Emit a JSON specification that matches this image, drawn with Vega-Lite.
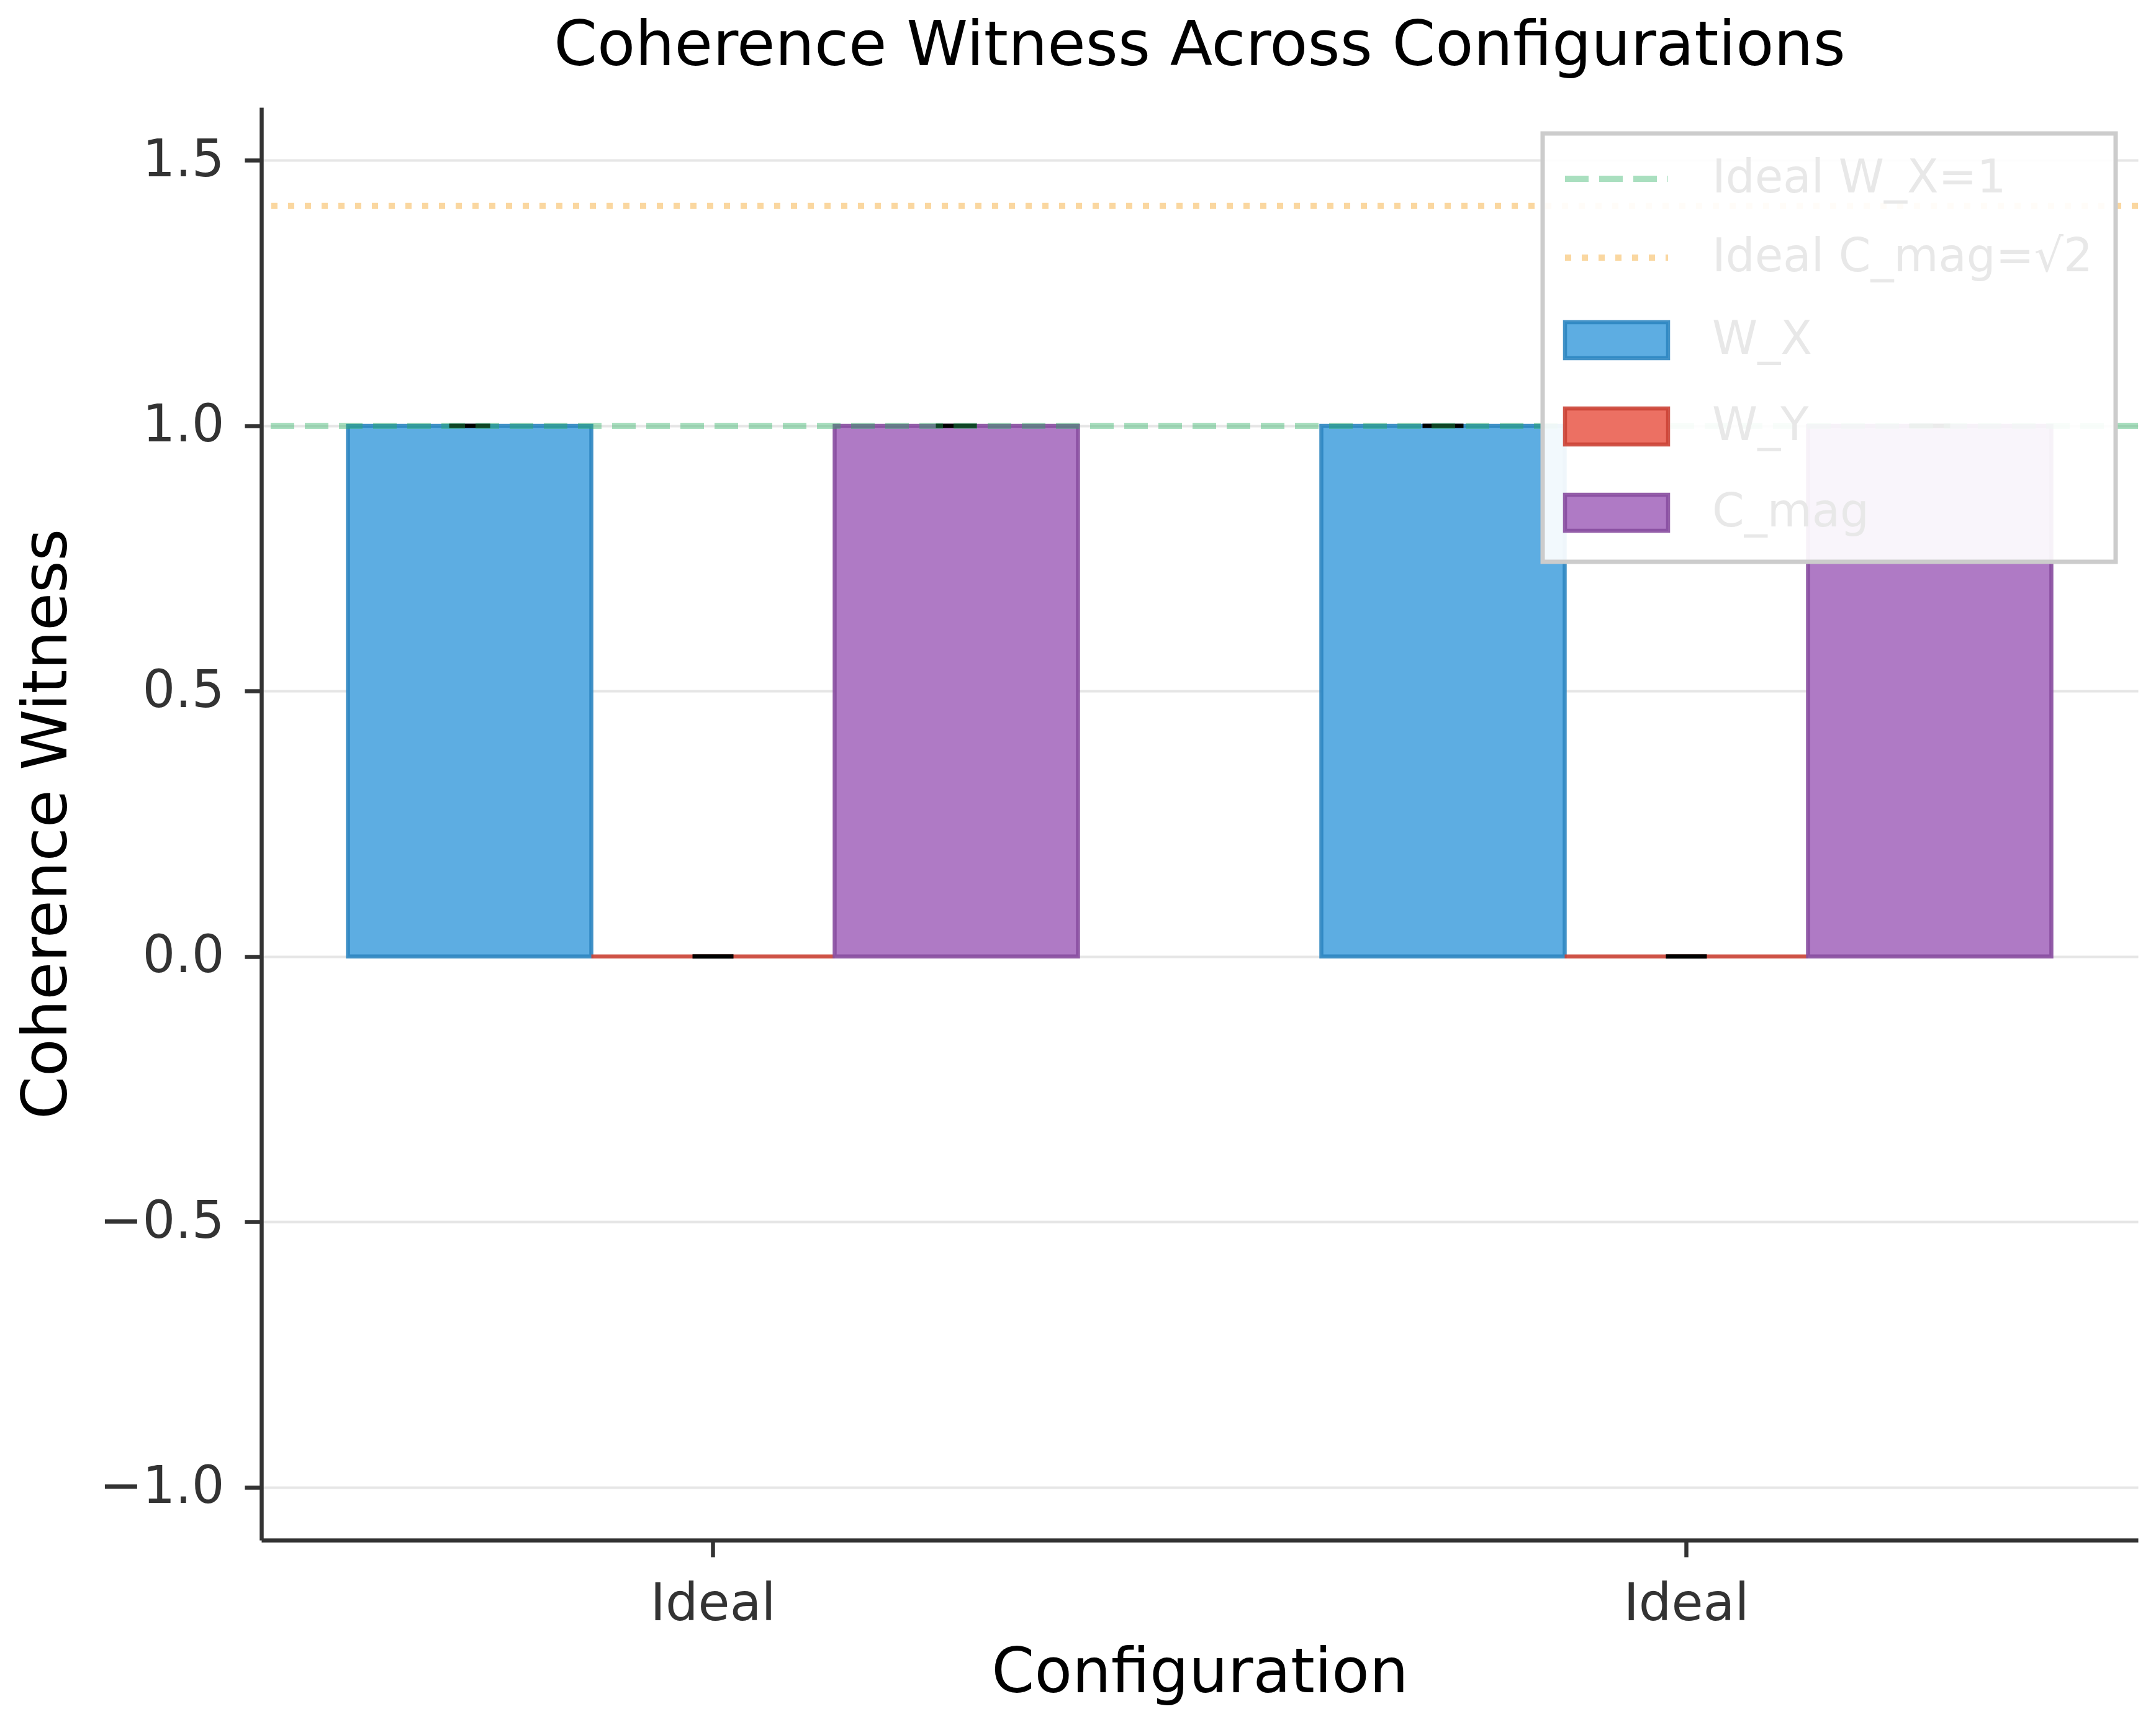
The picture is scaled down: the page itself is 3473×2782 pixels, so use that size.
{
  "$schema": "https://vega.github.io/schema/vega-lite/v6.json",
  "autosize": {"type": "none"},
  "padding": {"left": 421, "top": 173, "right": 29, "bottom": 301},
  "width": 3023,
  "height": 2308,
  "background": "white",
  "title": {
    "text": "Coherence Witness Across Configurations",
    "font": "DejaVu Sans",
    "fontSize": 100,
    "fontWeight": "normal",
    "color": "#000000",
    "anchor": "middle",
    "baseline": "alphabetic",
    "offset": -32
  },
  "datasets": {
    "bars": [
      {"run": 1, "config": "Ideal", "series": "W_X", "value": 1.0, "error": 0.0},
      {"run": 1, "config": "Ideal", "series": "W_Y", "value": 0.0, "error": 0.0},
      {"run": 1, "config": "Ideal", "series": "C_mag", "value": 1.0, "error": 0.0},
      {"run": 2, "config": "Ideal", "series": "W_X", "value": 1.0, "error": 0.0},
      {"run": 2, "config": "Ideal", "series": "W_Y", "value": 0.0, "error": 0.0},
      {"run": 2, "config": "Ideal", "series": "C_mag", "value": 1.0, "error": 0.0}
    ],
    "refs": [
      {"series": "Ideal W_X=1", "value": 1.0},
      {"series": "Ideal C_mag=√2", "value": 1.41421}
    ]
  },
  "config": {
    "view": {"stroke": null},
    "axis": {
      "labelFont": "DejaVu Sans",
      "titleFont": "DejaVu Sans",
      "labelFontSize": 83,
      "titleFontSize": 99,
      "titleFontWeight": "normal",
      "labelColor": "#333333",
      "titleColor": "#000000",
      "domainColor": "#333333",
      "domainWidth": 6.5,
      "tickColor": "#333333",
      "tickWidth": 6.5,
      "tickSize": 27,
      "labelLimit": 1000,
      "titleLimit": 3000
    }
  },
  "layer": [
    {
      "data": {"name": "bars"},
      "mark": {"type": "bar", "strokeWidth": 6.5, "strokeOpacity": 0.9},
      "encoding": {
        "x": {
          "field": "run",
          "type": "ordinal",
          "scale": {"paddingInner": 0.25, "paddingOuter": 0.089},
          "axis": {
            "title": "Configuration",
            "labelExpr": "'Ideal'",
            "labelAngle": 0,
            "labelBaseline": "alphabetic",
            "labelPadding": 101,
            "grid": false,
            "titleBaseline": "alphabetic",
            "titleY": 244
          }
        },
        "xOffset": {
          "field": "series",
          "type": "nominal",
          "scale": {"domain": ["W_X", "W_Y", "C_mag"], "paddingInner": 0, "paddingOuter": 0}
        },
        "y": {
          "field": "value",
          "type": "quantitative",
          "scale": {"domain": [-1.1, 1.6], "nice": false, "zero": false},
          "axis": {
            "title": "Coherence Witness",
            "values": [-1, -0.5, 0, 0.5, 1, 1.5],
            "format": ".1f",
            "grid": true,
            "gridColor": "#e6e6e6",
            "gridWidth": 4,
            "labelPadding": 33,
            "titleAngle": -90,
            "titleBaseline": "alphabetic",
            "titleAlign": "center",
            "titleX": -315,
            "titleY": 1154
          }
        },
        "color": {
          "field": "series",
          "type": "nominal",
          "scale": {
            "domain": ["Ideal W_X=1", "Ideal C_mag=√2", "W_X", "W_Y", "C_mag"],
            "range": ["#27AE60", "#F39C12", "#5DADE2", "#EC7063", "#AF7AC5"]
          },
          "legend": {
            "title": null,
            "orient": "none",
            "legendX": 2064,
            "legendY": 42,
            "padding": 36,
            "rowPadding": 53,
            "labelOffset": 71,
            "labelFont": "DejaVu Sans",
            "labelFontSize": 74,
            "labelColor": "#e8e8e8",
            "symbolSize": 27556,
            "labelLimit": 2000,
            "encode": {
              "legend": {
                "update": {
                  "stroke": {"value": "#cccccc"},
                  "strokeWidth": {"value": 7},
                  "fill": {"value": "rgba(255,255,255,0.92)"}
                }
              },
              "labels": {
                "update": {
                  "x": {"value": 237}
                }
              },
              "symbols": {
                "update": {
                  "x": {"value": 83},
                  "shape": {"signal": "indexof(['Ideal W_X=1','Ideal C_mag=√2'], datum.value) >= 0 ? 'M-1,0H1' : 'M-1,-0.35H1V0.35H-1Z'"},
                  "fill": {"signal": "datum.value == 'W_X' ? '#5DADE2' : datum.value == 'W_Y' ? '#EC7063' : datum.value == 'C_mag' ? '#AF7AC5' : 'transparent'"},
                  "stroke": {"signal": "datum.value == 'W_X' ? '#2E86C1' : datum.value == 'W_Y' ? '#CB4335' : datum.value == 'C_mag' ? '#884EA0' : datum.value == 'Ideal W_X=1' ? '#27AE60' : '#F39C12'"},
                  "strokeOpacity": {"signal": "indexof(['Ideal W_X=1','Ideal C_mag=√2'], datum.value) >= 0 ? 0.4 : 0.9"},
                  "fillOpacity": {"value": 1},
                  "opacity": {"value": 1},
                  "strokeWidth": {"signal": "indexof(['Ideal W_X=1','Ideal C_mag=√2'], datum.value) >= 0 ? 10 : 6.5"},
                  "strokeDash": {"signal": "datum.value == 'Ideal W_X=1' ? [38,17] : datum.value == 'Ideal C_mag=√2' ? [10,17] : [10000,1]"}
                }
              }
            }
          }
        },
        "stroke": {
          "field": "series",
          "type": "nominal",
          "scale": {
            "domain": ["Ideal W_X=1", "Ideal C_mag=√2", "W_X", "W_Y", "C_mag"],
            "range": ["#27AE60", "#F39C12", "#2E86C1", "#CB4335", "#884EA0"]
          },
          "legend": null
        }
      }
    },
    {
      "data": {"name": "bars"},
      "mark": {"type": "tick", "color": "#000000", "size": 66, "thickness": 7, "opacity": 1},
      "encoding": {
        "x": {"field": "run", "type": "ordinal"},
        "xOffset": {"field": "series", "type": "nominal"},
        "y": {"field": "value", "type": "quantitative"}
      }
    },
    {
      "data": {"name": "refs"},
      "mark": {"type": "rule", "strokeWidth": 10, "opacity": 0.4},
      "encoding": {
        "y": {"field": "value", "type": "quantitative"},
        "stroke": {"field": "series", "type": "nominal", "legend": null},
        "strokeDash": {
          "field": "series",
          "type": "nominal",
          "scale": {"domain": ["Ideal W_X=1", "Ideal C_mag=√2"], "range": [[38, 17], [10, 17]]},
          "legend": null
        }
      }
    }
  ]
}
